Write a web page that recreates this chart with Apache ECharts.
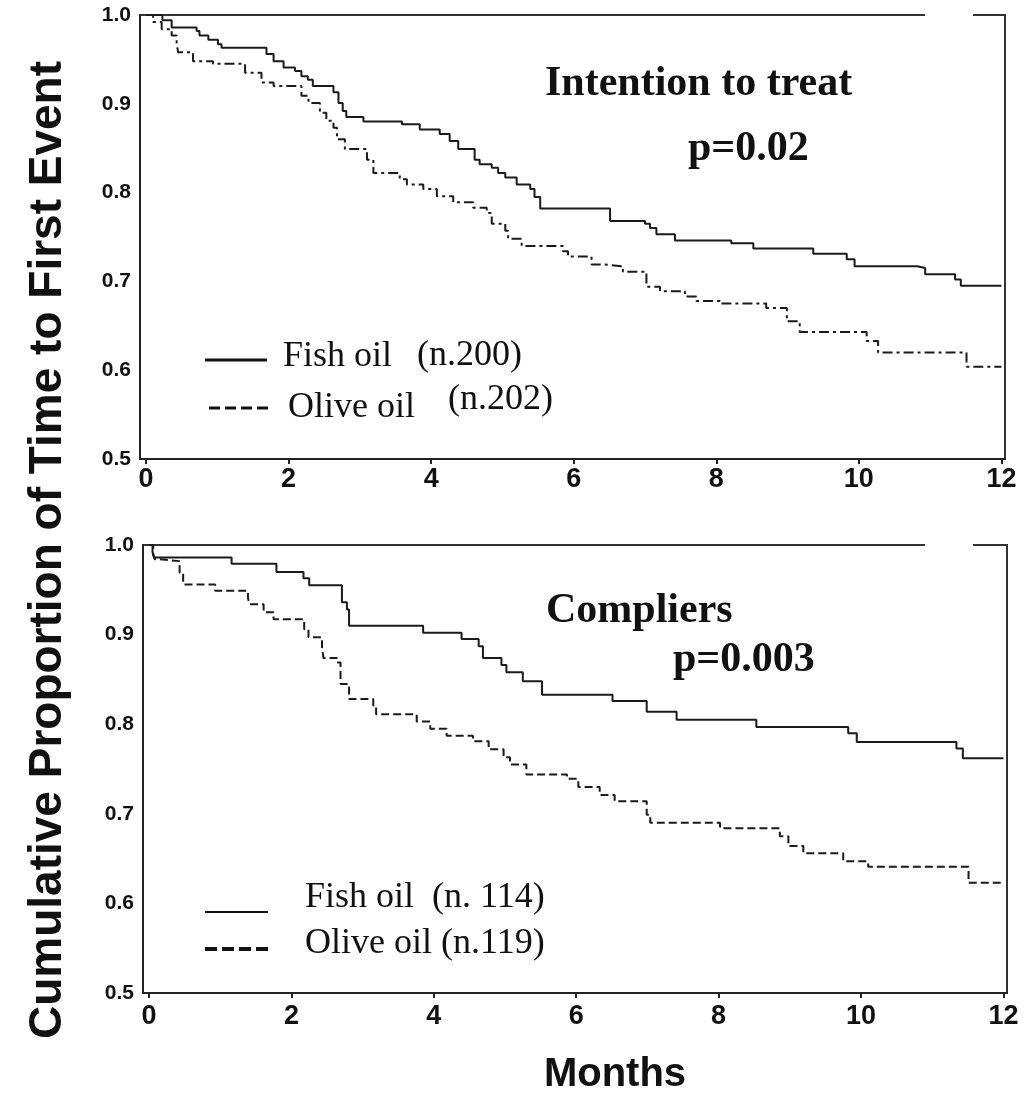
<!DOCTYPE html>
<html>
<head>
<meta charset="utf-8">
<script src="https://cdn.jsdelivr.net/npm/echarts@6/dist/echarts.min.js"></script>
<style>
html,body{margin:0;padding:0;background:#fff;}
#main{width:1023px;height:1098px;}
</style>
</head>
<body>
<div id="main"></div>
<script>
// intention to treat - fish oil
var ittFishMonths = [0,0.23,0.36,0.71,0.75,0.875,1.01,1.06,1.69,1.79,1.93,2.09,2.18,2.27,2.34,2.63,2.70,2.76,2.81,3.05,3.59,3.84,4.12,4.26,4.38,4.61,4.68,4.85,4.94,5.04,5.20,5.39,5.45,5.53,6.51,7.00,7.07,7.16,7.42,8.21,8.52,9.36,9.83,9.94,10.82,10.93,11.35,11.43,12];
var ittFishSurv = [1.0,0.994,0.986,0.982,0.977,0.972,0.967,0.963,0.956,0.948,0.941,0.937,0.931,0.927,0.920,0.913,0.901,0.892,0.885,0.880,0.877,0.871,0.866,0.858,0.849,0.837,0.832,0.828,0.822,0.817,0.809,0.804,0.795,0.782,0.768,0.765,0.760,0.753,0.746,0.743,0.737,0.731,0.725,0.717,0.715,0.708,0.702,0.695,0.695];
// intention to treat - olive oil
var ittOliveMonths = [0,0.10,0.22,0.36,0.43,0.45,0.66,0.94,1.39,1.62,1.79,2.18,2.28,2.44,2.53,2.63,2.68,2.79,3.10,3.19,3.56,3.66,3.89,4.08,4.31,4.59,4.78,4.85,5.04,5.08,5.27,5.85,5.92,6.25,6.44,6.69,7.02,7.21,7.56,7.72,8.05,8.70,8.99,9.17,10.11,10.27,11.51,12];
var ittOliveSurv = [1.0,0.992,0.984,0.977,0.969,0.958,0.948,0.945,0.935,0.924,0.920,0.909,0.901,0.890,0.881,0.873,0.860,0.849,0.837,0.822,0.815,0.809,0.804,0.796,0.789,0.783,0.777,0.765,0.757,0.748,0.740,0.734,0.728,0.719,0.717,0.711,0.694,0.689,0.683,0.678,0.675,0.670,0.655,0.643,0.633,0.620,0.604,0.604];
// compliers - fish oil
var compFishMonths = [0,0.05,0.07,1.16,1.79,2.17,2.25,2.71,2.78,2.81,3.85,4.39,4.63,4.69,4.95,5.02,5.25,5.52,6.51,6.99,7.41,8.53,9.82,9.94,11.34,11.43,12];
var compFishSurv = [1.0,0.992,0.986,0.979,0.970,0.963,0.955,0.936,0.928,0.910,0.902,0.895,0.887,0.874,0.866,0.858,0.848,0.833,0.826,0.814,0.805,0.797,0.790,0.780,0.773,0.762,0.762];
// compliers - olive oil
var compOliveMonths = [0,0.06,0.08,0.15,0.43,0.48,0.93,1.39,1.41,1.61,1.75,2.18,2.24,2.43,2.45,2.64,2.69,2.81,3.15,3.19,3.76,3.95,4.18,4.55,4.77,4.98,5.07,5.30,5.87,6.03,6.33,6.54,6.99,7.04,8.02,8.86,8.98,9.19,9.75,10.10,11.51,12];
var compOliveSurv = [1.0,0.990,0.984,0.982,0.969,0.956,0.949,0.941,0.934,0.925,0.917,0.906,0.897,0.886,0.874,0.869,0.845,0.828,0.820,0.811,0.803,0.795,0.787,0.781,0.772,0.763,0.755,0.744,0.739,0.730,0.721,0.714,0.699,0.690,0.684,0.675,0.664,0.656,0.647,0.641,0.623,0.623];

var xTicks = [0,2,4,6,8,10,12];

function pairs(xs, ys){
    var out = [];
    for(var i=0;i<xs.length;i++){
        out.push([xs[i], ys[i]]);
    }
    return out;
}

var sans = '"Liberation Sans", Arial, sans-serif';
var serif = '"Liberation Serif", "Times New Roman", serif';
var ink = '#1a1a1a';

function xAx(idx){
    return {
        type:'value', gridIndex:idx, min:-0.084, max:12.05,
        axisLine:{show:true, onZero:false, lineStyle:{color:'#222', width:2}},
        axisTick:{show:true, customValues:xTicks, length:5, lineStyle:{color:'#222', width:2}},
        axisLabel:{customValues:xTicks, fontFamily:sans, fontWeight:'bold', fontSize:27, color:'#111', margin:idx==0?7:10},
        splitLine:{show:false}
    };
}
function yAx(idx){
    return {
        type:'value', gridIndex:idx, min:0.5, max:1.0, interval:0.1,
        axisLine:{show:true, onZero:false, lineStyle:{color:'#222', width:2}},
        axisTick:{show:false},
        axisLabel:{fontFamily:sans, fontWeight:'bold', fontSize:21, color:'#111', margin:9,
            formatter:function(v){return v.toFixed(1);}},
        splitLine:{show:false}
    };
}
function curve(name, idx, xs, ys, dash, w){
    return {
        name:name, type:'line', step:'end', xAxisIndex:idx, yAxisIndex:idx,
        symbol:'none', data:pairs(xs, ys), silent:true,
        lineStyle:{color:ink, width:w, type:dash}
    };
}
function txt(s, x, y, font, align){
    return {type:'text', x:x, y:y, z:100,
        style:{text:s, font:font, fill:'#111', align:align||'left', verticalAlign:'middle'}};
}
function seg(x1, x2, y, w, dash){
    return {type:'line', z:100, shape:{x1:x1, y1:y, x2:x2, y2:y},
        style:{stroke:'#111', lineWidth:w, lineDash:dash||null}};
}

var chart = echarts.init(document.getElementById('main'));
var option = {
    animation:false,
    backgroundColor:'#fff',
    grid:[
        {left:140, top:15, width:865, height:444, show:true, borderColor:'#333', borderWidth:2},
        {left:143, top:545, width:864, height:448, show:true, borderColor:'#333', borderWidth:2}
    ],
    xAxis:[xAx(0), xAx(1)],
    yAxis:[yAx(0), yAx(1)],
    series:[
        curve('Fish oil', 0, ittFishMonths, ittFishSurv, 'solid', 2),
        curve('Olive oil', 0, ittOliveMonths, ittOliveSurv, [10,4,3,4], 2),
        curve('Fish oil', 1, compFishMonths, compFishSurv, 'solid', 2),
        curve('Olive oil', 1, compOliveMonths, compOliveSurv, [8,4], 2)
    ],
    graphic:[
        // small breaks in the top border
        {type:'rect', z:100, shape:{x:925, y:10, width:48, height:10}, style:{fill:'#fff'}},
        {type:'rect', z:100, shape:{x:925, y:540, width:48, height:10}, style:{fill:'#fff'}},
        {type:'text', x:48, y:550, rotation:Math.PI/2, z:100,
            style:{text:'Cumulative Proportion of Time to First Event', font:'bold 46px ' + sans,
                fill:'#111', align:'center', verticalAlign:'middle'}},
        txt('Months', 615, 1075, 'bold 40px ' + sans, 'center'),
        txt('Intention to treat', 545, 84, 'bold 42px ' + serif),
        txt('p=0.02', 688, 149, 'bold 42px ' + serif),
        txt('Compliers', 546, 611, 'bold 42px ' + serif),
        txt('p=0.003', 673, 660, 'bold 42px ' + serif),
        seg(205, 267, 360, 3),
        txt('Fish oil', 283, 357, '36px ' + serif),
        txt('(n.200)', 417, 356, '36px ' + serif),
        seg(209, 272, 408, 3, [11,5]),
        txt('Olive oil', 288, 408, '36px ' + serif),
        txt('(n.202)', 448, 400, '36px ' + serif),
        seg(205, 268, 912, 2),
        txt('Fish oil  (n. 114)', 305, 898, '36px ' + serif),
        seg(205, 269, 949, 4, [12,5]),
        txt('Olive oil (n.119)', 305, 944, '36px ' + serif)
    ]
};
chart.setOption(option);
window.onresize = chart.resize;
</script>
</body>
</html>
